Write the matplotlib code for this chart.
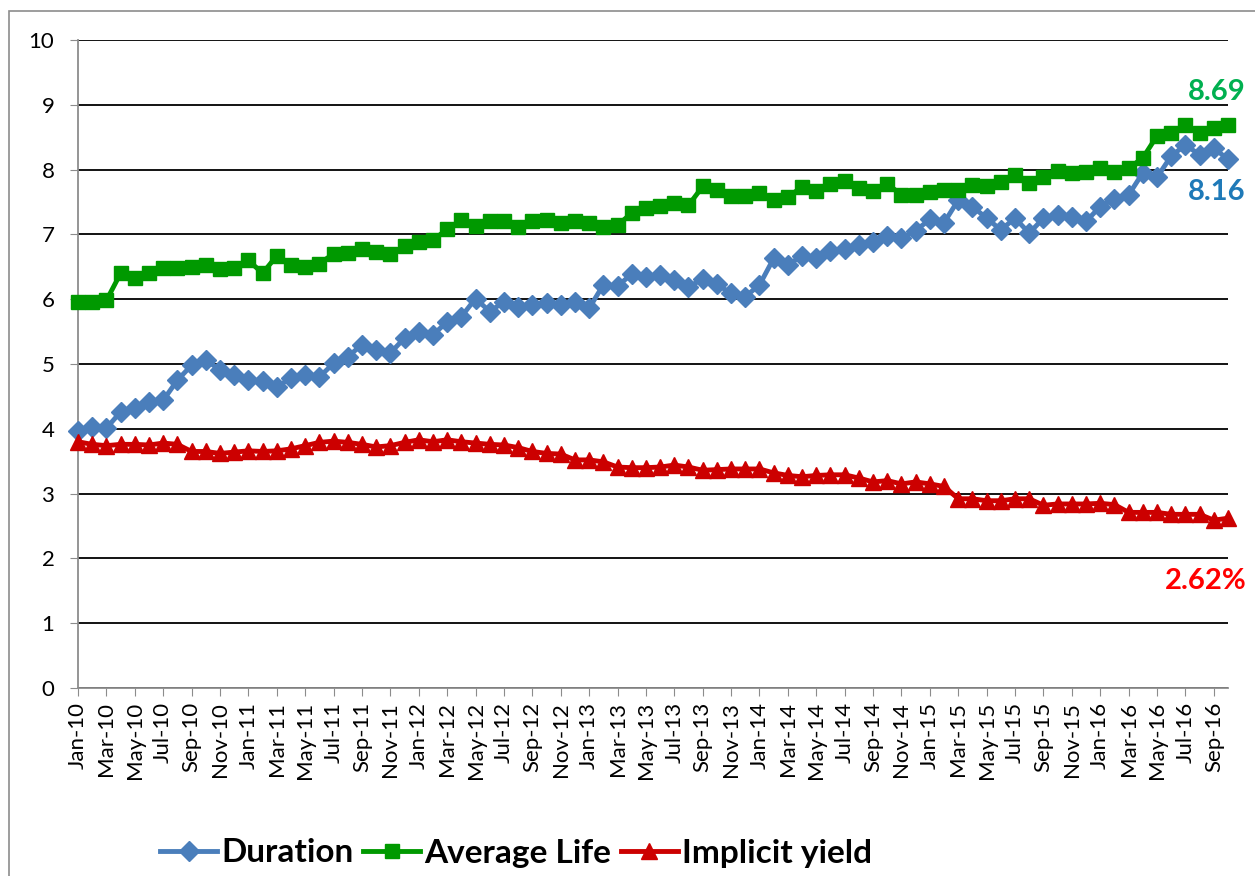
"""Duration / average life / implicit yield, monthly Jan-10 .. Oct-16."""
import matplotlib
matplotlib.use("Agg")
import matplotlib.pyplot as plt
from matplotlib.patches import Rectangle

plt.rcParams["font.family"] = ["Lato", "DejaVu Sans"]

# Jan-10 .. Oct-16, one value per month
months = ["Jan", "Feb", "Mar", "Apr", "May", "Jun",
          "Jul", "Aug", "Sep", "Oct", "Nov", "Dec"]
dates = [f"{m}-{y:02d}" for y in range(10, 17) for m in months][:82]

duration = [
    3.96, 4.03, 4.01, 4.26, 4.32, 4.42, 4.44, 4.75, 4.98, 5.06, 4.91, 4.83,
    4.75, 4.73, 4.65, 4.78, 4.83, 4.80, 5.01, 5.11, 5.30, 5.22, 5.17, 5.40,
    5.50, 5.45, 5.65, 5.73, 6.01, 5.81, 5.96, 5.88, 5.91, 5.94, 5.91, 5.96,
    5.86, 6.22, 6.20, 6.39, 6.35, 6.37, 6.30, 6.19, 6.31, 6.23, 6.09, 6.04,
    6.22, 6.63, 6.53, 6.67, 6.63, 6.75, 6.77, 6.84, 6.89, 6.98, 6.94, 7.06,
    7.23, 7.18, 7.53, 7.43, 7.25, 7.07, 7.25, 7.02, 7.25, 7.30, 7.27, 7.20,
    7.43, 7.55, 7.61, 7.95, 7.88, 8.21, 8.38, 8.23, 8.33, 8.16,
]
average_life = [
    5.96, 5.96, 5.98, 6.40, 6.32, 6.40, 6.48, 6.48, 6.49, 6.53, 6.46, 6.48,
    6.60, 6.40, 6.67, 6.53, 6.50, 6.55, 6.70, 6.71, 6.77, 6.73, 6.70, 6.82,
    6.89, 6.91, 7.08, 7.22, 7.13, 7.20, 7.20, 7.11, 7.20, 7.22, 7.17, 7.20,
    7.17, 7.11, 7.14, 7.33, 7.40, 7.44, 7.49, 7.45, 7.74, 7.69, 7.59, 7.59,
    7.64, 7.53, 7.58, 7.73, 7.67, 7.78, 7.83, 7.71, 7.67, 7.78, 7.61, 7.61,
    7.66, 7.69, 7.69, 7.76, 7.75, 7.81, 7.92, 7.79, 7.88, 7.98, 7.94, 7.97,
    8.02, 7.97, 8.02, 8.18, 8.52, 8.57, 8.69, 8.56, 8.64, 8.69,
]
implicit_yield = [
    3.80, 3.76, 3.74, 3.76, 3.76, 3.75, 3.78, 3.76, 3.65, 3.65, 3.62, 3.64,
    3.66, 3.65, 3.66, 3.69, 3.74, 3.79, 3.81, 3.79, 3.76, 3.72, 3.74, 3.79,
    3.83, 3.80, 3.83, 3.80, 3.78, 3.76, 3.75, 3.71, 3.65, 3.62, 3.61, 3.52,
    3.52, 3.49, 3.41, 3.40, 3.40, 3.41, 3.44, 3.41, 3.36, 3.37, 3.38, 3.38,
    3.38, 3.32, 3.28, 3.26, 3.28, 3.29, 3.29, 3.24, 3.18, 3.20, 3.15, 3.18,
    3.15, 3.11, 2.92, 2.92, 2.89, 2.89, 2.92, 2.92, 2.82, 2.84, 2.84, 2.84,
    2.85, 2.83, 2.71, 2.71, 2.71, 2.68, 2.68, 2.68, 2.59, 2.62,
]

fig = plt.figure(figsize=(12.55, 8.76), dpi=100)
ax = fig.add_axes([78 / 1255, 1 - 688 / 876, 1150 / 1255, 648 / 876])

# chart-area border (only top/left visible in the crop)
fig.patches.append(Rectangle((9 / 1255, -0.1), 1.2, 1 - 11 / 876 + 0.1,
                             transform=fig.transFigure, fill=False,
                             edgecolor="#8c8c8c", lw=1.2))

x = list(range(len(dates)))
ax.plot(x, duration, color="#4a7ebb", lw=3.5, marker="D", ms=10.5,
        label="Duration", zorder=3, clip_on=False)
ax.plot(x, average_life, color="#009900", lw=3.5, marker="s", ms=9.5,
        label="Average Life", zorder=3, clip_on=False)
ax.plot(x, implicit_yield, color="#cc0000", lw=3.5, marker="^", ms=11.5,
        label="Implicit yield", zorder=3, clip_on=False)

ax.set_xlim(0, len(dates) - 1)
ax.set_ylim(0, 10)
ax.set_yticks(range(0, 11))
ax.set_xticks(x[::2])
ax.set_xticklabels(dates[::2], rotation=90, fontsize=16)
ax.tick_params(axis="y", labelsize=16, length=6, color="#8c8c8c", pad=11)
ax.tick_params(axis="x", length=6, color="#8c8c8c", pad=4)
ax.grid(axis="y", color="black", lw=1.3, zorder=1)
for side in ("top", "right"):
    ax.spines[side].set_visible(False)
for side in ("left", "bottom"):
    ax.spines[side].set_color("#8c8c8c")
    ax.spines[side].set_linewidth(1.3)
    ax.spines[side].set_zorder(2)
ax.set_axisbelow(True)

# end-of-series labels
ax.annotate(f"{average_life[-1]:.2f}", (x[-1], average_life[-1]),
            xytext=(-8, 18), textcoords="offset points", ha="center",
            color="#00b050", fontsize=21, fontweight="bold",
            annotation_clip=False)
ax.annotate(f"{duration[-1]:.2f}", (x[-1], duration[-1]),
            xytext=(-8, -29), textcoords="offset points", ha="center",
            color="#1f7ab8", fontsize=21, fontweight="bold",
            annotation_clip=False)
ax.annotate(f"{implicit_yield[-1]:.2f}%", (x[-1], implicit_yield[-1]),
            xytext=(-16, -51), textcoords="offset points", ha="center",
            color="#ff0000", fontsize=21, fontweight="bold",
            annotation_clip=False)

fig.legend(loc="center", bbox_to_anchor=(516 / 1255, 1 - 853 / 876),
           ncol=3, frameon=False, prop={"size": 24, "weight": "bold"},
           handlelength=1.7, handletextpad=0.12, columnspacing=0.3)

fig.savefig("out.png", dpi=100)
